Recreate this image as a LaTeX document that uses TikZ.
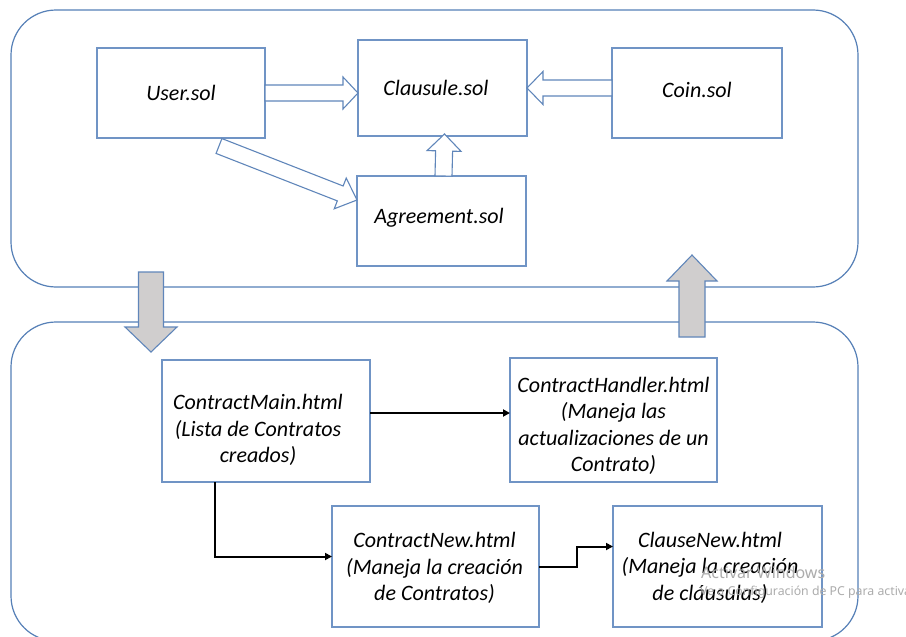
\documentclass[tikz,border=0pt]{standalone}
\usepackage{fontspec}
\setmainfont{Carlito}
\newfontfamily\wmfont{Noto Sans}
\usetikzlibrary{calc,arrows.meta}

\definecolor{panelblue}{RGB}{86,128,183}
\definecolor{boxblue}{RGB}{112,148,197}
\definecolor{arrowblue}{RGB}{96,134,186}
\definecolor{blockgray}{RGB}{208,206,206}
\definecolor{wmgray}{RGB}{172,172,172}

% block arrow drawn as a polygon from tail to tip
% #1 style, #2 tail, #3 tip, #4 half shaft width, #5 half head width, #6 head length
\newcommand{\blockarrow}[6]{%
  \coordinate (ba-neck) at ($(#3)!#6!(#2)$);
  \draw[#1] ($(#2)!#4!90:(#3)$) -- ($(ba-neck)!#4!90:(#3)$)
    -- ($(ba-neck)!#5!90:(#3)$) -- (#3)
    -- ($(ba-neck)!#5!-90:(#3)$) -- ($(ba-neck)!#4!-90:(#3)$)
    -- ($(#2)!#4!-90:(#3)$) -- cycle;
}

\tikzset{
  panel/.style={draw=panelblue, line width=1.2pt, rounded corners=45pt,
    inner sep=0pt, outer sep=0pt},
  filebox/.style={draw=boxblue, line width=1.1pt, inner sep=0pt, outer sep=0pt},
  label/.style={font=\fontsize{22}{26.5}\selectfont\itshape, align=center,
    inner sep=0pt, text=black},
  hollow/.style={draw=arrowblue, line width=1.1pt, fill=white, line join=miter},
  grayblock/.style={draw=arrowblue, line width=1.1pt, fill=blockgray, line join=miter},
  conn/.style={draw=black, line width=2pt,
    -{Triangle[length=7pt,width=7pt]}},
  watermark/.style={text=wmgray, inner sep=0pt, anchor=base west},
}

\begin{document}
\begin{tikzpicture}[x=1pt, y=-1pt]
\useasboundingbox (0,0) rectangle (906,637);
\clip (0,0) rectangle (906,637);
\fill[white] (0,0) rectangle (906,637);

% the two panels
\node[panel, minimum width=847pt, minimum height=277pt] (toppanel) at (434.5,148.5) {};
\node[panel, minimum width=847pt, minimum height=319pt] (botpanel) at (434.5,481.5) {};

% contract files
\node[filebox, minimum width=168pt, minimum height=90pt] (user) at (181,93) {};
\node[filebox, minimum width=169pt, minimum height=96pt] (clausule) at (442.5,88) {};
\node[filebox, minimum width=170pt, minimum height=90pt] (coin) at (697,93) {};
\node[filebox, minimum width=169pt, minimum height=90pt] (agreement) at (441.5,221) {};

\node[label] (user-t) at (181,93) {User.sol};
\node[label] (clausule-t) at (436,88) {Clausule.sol};
\node[label] (coin-t) at (697,90) {Coin.sol};
\node[label] (agreement-t) at (439,218) {Agreement.sol};

% dependencies between contracts
\coordinate (uc-tail) at (user.east);
\coordinate (uc-tip) at (user.east -| clausule.west);
\blockarrow{hollow}{uc-tail}{uc-tip}{8pt}{16pt}{15pt}

\coordinate (cc-tail) at (coin.west |- clausule.east);
\coordinate (cc-tip) at (clausule.east);
\blockarrow{hollow}{cc-tail}{cc-tip}{8pt}{16.5pt}{16pt}

\coordinate (ac-tail) at ($(agreement.north)+(2,0)$);
\coordinate (ac-tip) at ($(clausule.south)+(2,-2)$);
\blockarrow{hollow}{ac-tail}{ac-tip}{8.5pt}{17pt}{17pt}

\coordinate (ua-tail) at ($(user.south)+(38,8)$);
\coordinate (ua-tip) at ($(agreement.west)+(0,-21)$);
\blockarrow{hollow}{ua-tail}{ua-tip}{8pt}{16.5pt}{18pt}

% flow between the two panels
\coordinate (down-tail) at (151,272);
\coordinate (down-tip) at (151,352);
\blockarrow{grayblock}{down-tail}{down-tip}{12.5pt}{26pt}{25pt}

\coordinate (up-tail) at (692,337);
\coordinate (up-tip) at (692,255);
\blockarrow{grayblock}{up-tail}{up-tip}{13pt}{25pt}{26pt}

% pages
\node[filebox, minimum width=208pt, minimum height=122pt] (cmain) at (266,421) {};
\node[filebox, minimum width=207pt, minimum height=124pt] (chandler) at (613.5,420) {};
\node[filebox, minimum width=207pt, minimum height=121pt] (cnew) at (435.5,566.5) {};
\node[filebox, minimum width=209pt, minimum height=121pt] (clnew) at (717.5,566.5) {};

\node[label] (cmain-t) at (258,430) {ContractMain.html\\(Lista de Contratos\\creados)};
\node[label] (chandler-t) at (613.5,426) {ContractHandler.html\\(Maneja las\\actualizaciones de un\\Contrato)};
\node[label] (cnew-t) at (434.5,568) {ContractNew.html\\(Maneja la creación\\de Contratos)};
\node[label] (clnew-t) at (710,567.5) {ClauseNew.html\\(Maneja la creación\\de cláusulas)};

% navigation links
\draw[conn] ([yshift=8pt]cmain.east) -- ([yshift=8pt]cmain.east -| chandler.west);
\draw[conn] ([xshift=-51pt]cmain.south) |- ([yshift=10pt]cnew.west);
\draw[conn] (cnew.east) -- ++(38,0) |- ([yshift=20pt]clnew.west);

% system notice in the corner
\node[watermark, font=\wmfont\fontsize{16}{18}\selectfont] (wm1) at (701,578) {Activar Windows};
\node[watermark, font=\wmfont\fontsize{12.3}{14}\selectfont] (wm2) at (700,595) {Ve a Configuración de PC para activar Windows};
\end{tikzpicture}
\end{document}
